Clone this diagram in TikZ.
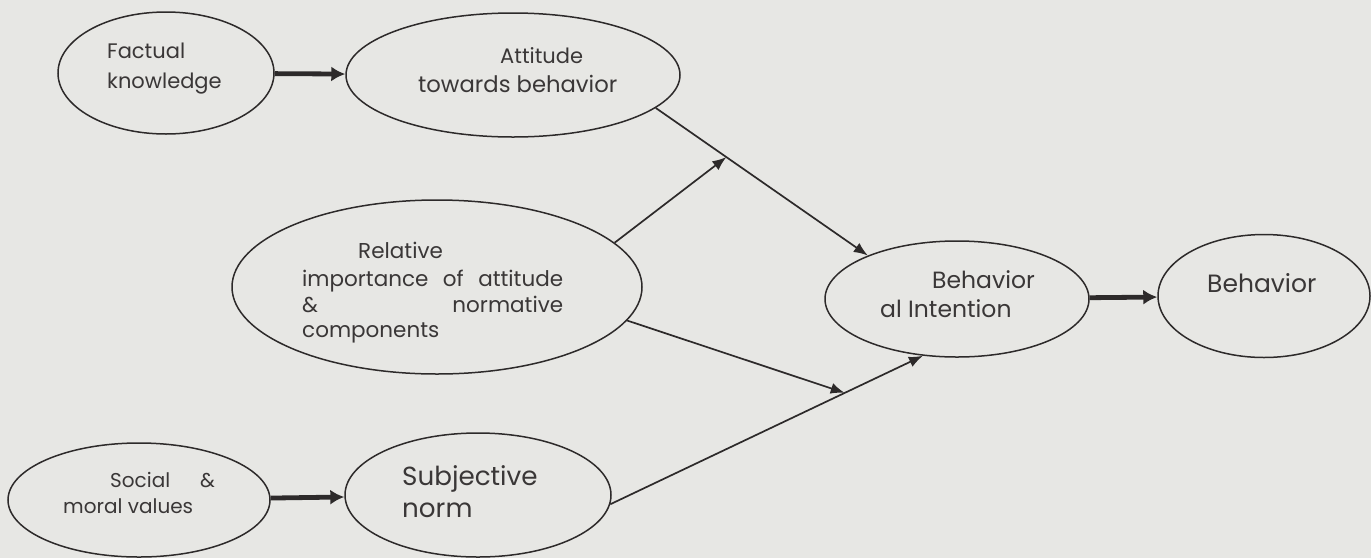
\documentclass[tikz,border=0pt]{standalone}
\usepackage{fontspec}
\setmainfont{Poppins}
\usetikzlibrary{arrows.meta,shapes.geometric}
\definecolor{paper}{RGB}{231,231,228}
\definecolor{ink}{RGB}{45,42,42}
\definecolor{txt}{RGB}{58,55,55}
\begin{document}
\begin{tikzpicture}[x=1pt,y=-1pt,
  oval/.style={draw=ink,line width=1.5pt,ellipse,inner sep=0pt},
  lbl/.style={text=txt,anchor=base west,inner sep=0pt,font=\fontsize{21}{25}\selectfont},
  midlbl/.style={lbl,font=\fontsize{23.5}{28}\selectfont},
  smalllbl/.style={lbl,font=\fontsize{20}{24}\selectfont},
  biglbl/.style={lbl,font=\fontsize{25}{30}\selectfont},
  arr/.style={draw=ink,line width=1.7pt,-{Latex[length=14pt,width=11pt]}},
  bigarrow/.style={draw=ink,line width=4.8pt,-{Latex[length=14pt,width=15pt]}}]
\fill[paper] (0,0) rectangle (1371,558);
\useasboundingbox (0,0) rectangle (1371,558);
% ovals
\node[oval,minimum width=216pt,minimum height=122pt] (fk)  at (166,73)  {};
\node[oval,minimum width=334pt,minimum height=124pt] (att) at (513,75)  {};
\node[oval,minimum width=410pt,minimum height=174pt] (rel) at (437,287) {};
\node[oval,minimum width=264pt,minimum height=116pt] (bi)  at (957,299) {};
\node[oval,minimum width=212pt,minimum height=123pt] (beh) at (1264,296) {};
\node[oval,minimum width=262pt,minimum height=114pt] (smv) at (139,500) {};
\node[oval,minimum width=266pt,minimum height=124pt] (sn)  at (478,495) {};
% texts
\node[lbl] (tfk1) at (107,58) {Factual};
\node[lbl] (tfk2) at (107,88) {knowledge};
\node[lbl] (tat1) at (500,63) {Attitude};
\node[lbl,font=\fontsize{22.7}{27}\selectfont] (tat2) at (418,92) {towards behavior};
\node[lbl,font=\fontsize{21.5}{26}\selectfont] (tre1) at (358,258) {Relative};
\node[lbl,font=\fontsize{21.5}{26}\selectfont] (tre2) at (302,286) {\makebox[261pt][s]{importance of attitude}};
\node[lbl,font=\fontsize{21.5}{26}\selectfont] (tre3) at (302,312) {\makebox[261pt][s]{\& normative}};
\node[lbl,font=\fontsize{21.5}{26}\selectfont] (tre4) at (302,337) {components};
\node[midlbl] (tbi1) at (932,288) {Behavior};
\node[midlbl] (tbi2) at (880,317) {al Intention};
\node[biglbl] (tbe) at (1207,292) {Behavior};
\node[smalllbl] (tsm1) at (110,487) {Social};
\node[smalllbl] (tsm2) at (200,487) {\&};
\node[smalllbl] (tsm3) at (63,513) {moral values};
\node[lbl,font=\fontsize{26.2}{31}\selectfont] (tsn1) at (402,485) {Subjective};
\node[lbl,font=\fontsize{26.2}{31}\selectfont] (tsn2) at (402,517) {norm};
% connectors
\draw[bigarrow] (fk) -- (att);
\draw[bigarrow] (smv) -- (sn);
\draw[bigarrow] (bi) -- (beh);
\draw[arr] (att.-13) -- (bi.154) coordinate[pos=0.333] (m1);
\draw[arr] (sn.-4) -- (bi.-121) coordinate[pos=0.75] (m2);
\draw[arr] (rel.14) -- (m1);
\draw[arr] (rel.-10) -- (m2);
\end{tikzpicture}
\end{document}
